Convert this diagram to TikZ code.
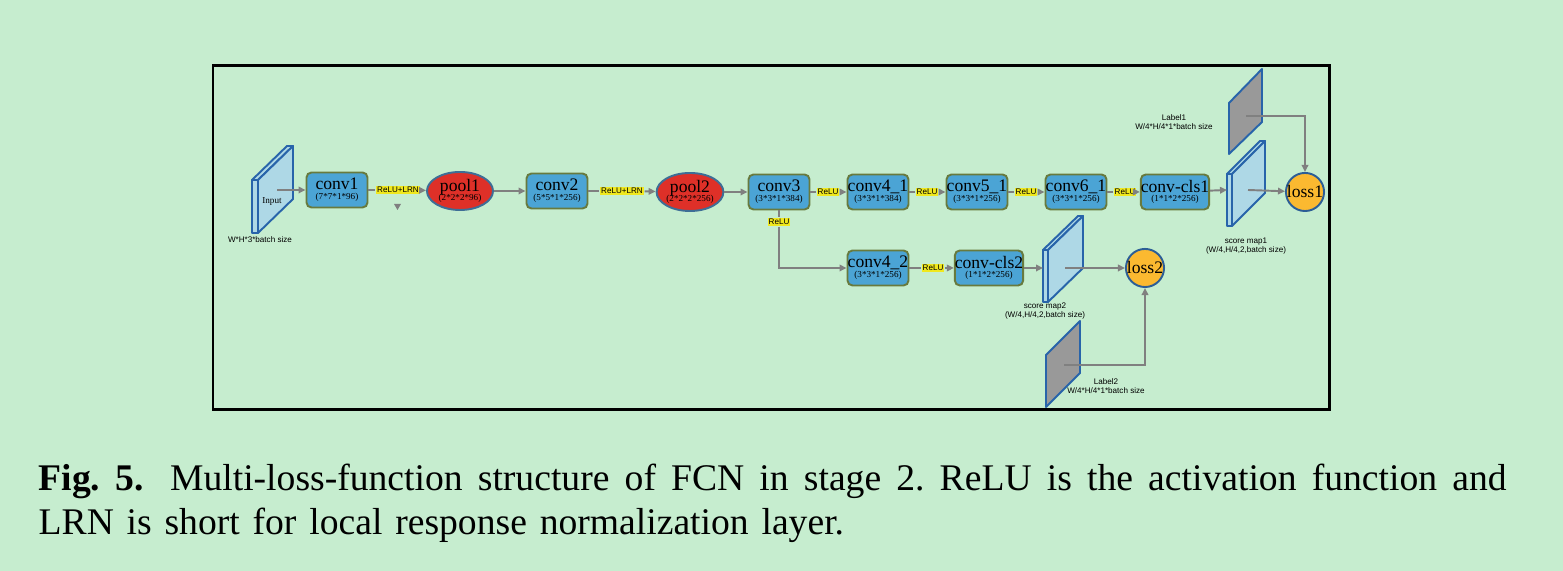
\documentclass[tikz,border=0pt]{standalone}
\usepackage{fontspec}
\setmainfont{Liberation Serif}
\setsansfont{Liberation Sans}
\usetikzlibrary{shapes.geometric,arrows.meta}

\definecolor{bggreen}{RGB}{198,237,207}
\definecolor{convfill}{RGB}{75,164,213}
\definecolor{convdraw}{RGB}{104,122,62}
\definecolor{poolfill}{RGB}{222,48,40}
\definecolor{pooldraw}{RGB}{62,110,150}
\definecolor{lossfill}{RGB}{251,185,48}
\definecolor{lossdraw}{RGB}{44,94,150}
\definecolor{slabfill}{RGB}{174,216,230}
\definecolor{slabdraw}{RGB}{40,100,170}
\definecolor{labelgrey}{RGB}{153,153,153}
\definecolor{relufill}{RGB}{240,232,30}
\definecolor{flowgrey}{RGB}{128,128,128}

\newcommand{\layername}{\fontsize{5}{5}\selectfont}
\lineskiplimit=-9pt
\frenchspacing

\begin{document}
\begin{tikzpicture}[x=0.01cm, y=-0.01cm,
    >={Triangle[length=0.07cm,width=0.065cm]},
    convbox/.style={rectangle, rounded corners=0.05cm, draw=convdraw, fill=convfill,
        line width=0.55pt, minimum width=0.61cm, minimum height=0.35cm, inner sep=0pt,
        align=center, font=\fontsize{2.6}{2.75}\selectfont},
    poolnode/.style={ellipse, draw=pooldraw, fill=poolfill, line width=0.55pt,
        minimum width=0.66cm, minimum height=0.38cm, inner sep=0pt,
        align=center, font=\fontsize{2.6}{2.75}\selectfont},
    lossnode/.style={circle, draw=lossdraw, fill=lossfill, line width=0.55pt,
        minimum size=0.38cm, inner sep=0pt, font=\fontsize{5}{5}\selectfont},
    actbox/.style={fill=relufill, inner sep=0.3pt, font=\sffamily\fontsize{2.3}{2.3}\selectfont},
    notetext/.style={align=center, inner sep=0pt, font=\sffamily\fontsize{2.3}{2.7}\selectfont},
    flow/.style={draw=flowgrey, line width=0.55pt},
    slab/.style={fill=slabfill, draw=slabdraw, line width=0.55pt, line join=round},
    labelslab/.style={fill=labelgrey, draw=slabdraw, line width=0.55pt, line join=round}]

    % background and frame
    \fill[bggreen] (0,0) rectangle (1563,571);
    \draw[black, line width=0.85pt] (213,66) rectangle (1329,410);

    % Input slab
    \filldraw[slab] (252,180) rectangle (258,233);
    \filldraw[slab] (252,180) -- ++(35,-34) -- ++(6,0) -- (258,180) -- cycle;
    \filldraw[slab] (258,180) -- ++(35,-34) -- ++(0,53) -- (258,233) -- cycle;
    \node[inner sep=0pt, font=\fontsize{2.6}{2.6}\selectfont] (input) at (272,201) {Input};
    \node[notetext] (inputsize) at (260,240) {W*H*3*batch size};
    \coordinate (inarr) at (277,190);

    % score map 1 slab
    \filldraw[slab] (1227,174) rectangle (1232,226);
    \filldraw[slab] (1227,174) -- ++(33,-33) -- ++(5,0) -- (1232,174) -- cycle;
    \filldraw[slab] (1232,174) -- ++(33,-33) -- ++(0,52) -- (1232,226) -- cycle;
    \coordinate (sm1in) at (1227,190);
    \coordinate (sm1out) at (1248,190);
    \node[notetext] (sm1text) at (1246,246) {score map1\\(W/4,H/4,2,batch size)};

    % score map 2 slab
    \filldraw[slab] (1043,250) rectangle (1048,302);
    \filldraw[slab] (1043,250) -- ++(35,-34) -- ++(5,0) -- (1048,250) -- cycle;
    \filldraw[slab] (1048,250) -- ++(35,-34) -- ++(0,52) -- (1048,302) -- cycle;
    \coordinate (sm2in) at (1043,268);
    \coordinate (sm2out) at (1065,268);
    \node[notetext] (sm2text) at (1045,311) {score map2\\(W/4,H/4,2,batch size)};

    % label slabs
    \filldraw[labelslab] (1229,103) -- (1262,69) -- (1262,122) -- (1229,154) -- cycle;
    \coordinate (lb1out) at (1246,116);
    \node[notetext] (lb1text) at (1174,122) {Label1\\W/4*H/4*1*batch size};
    \filldraw[labelslab] (1046,355) -- (1080,321) -- (1080,373) -- (1046,407) -- cycle;
    \coordinate (lb2out) at (1064,365);
    \node[notetext] (lb2text) at (1106,386) {Label2\\W/4*H/4*1*batch size};

    % main branch
    \node[convbox] (conv1) at (337,190) {{\layername conv1}\\(7*7*1*96)};
    \node[poolnode] (pool1) at (460,191) {{\layername pool1}\\(2*2*2*96)};
    \node[convbox] (conv2) at (557,191) {{\layername conv2}\\(5*5*1*256)};
    \node[poolnode] (pool2) at (690,192) {{\layername pool2}\\(2*2*2*256)};
    \node[convbox] (conv3) at (779,192) {{\layername conv3}\\(3*3*1*384)};
    \node[convbox] (conv41) at (878,192) {{\layername conv4\_1}\\(3*3*1*384)};
    \node[convbox] (conv51) at (977,192) {{\layername conv5\_1}\\(3*3*1*256)};
    \node[convbox] (conv61) at (1076,192) {{\layername conv6\_1}\\(3*3*1*256)};
    \node[convbox] (cls1) at (1175,192) {{\layername conv-cls1}\\(1*1*2*256)};
    \node[lossnode] (loss1) at (1305,192) {loss1};

    % second branch
    \node[convbox] (conv42) at (878,268) {{\layername conv4\_2}\\(3*3*1*256)};
    \node[convbox] (cls2) at (989,268) {{\layername conv-cls2}\\(1*1*2*256)};
    \node[lossnode] (loss2) at (1145,268) {loss2};

    % activation labels
    \node[actbox] (act1) at (398,190) {ReLU+LRN};
    \node[actbox] (act2) at (622,191) {ReLU+LRN};
    \node[actbox] (act3) at (828,192) {ReLU};
    \node[actbox] (act4) at (927,192) {ReLU};
    \node[actbox] (act5) at (1026,192) {ReLU};
    \node[actbox] (act6) at (1125,192) {ReLU};
    \node[actbox] (act7) at (779,222) {ReLU};
    \node[actbox] (act8) at (933,268) {ReLU};

    % small marker below first label
    \fill[flowgrey] (394,204) -- (401,204) -- (397.5,210) -- cycle;

    % connections
    \draw[flow, ->] (inarr) -- (conv1);
    \draw[flow] (conv1) -- (act1);
    \draw[flow, ->] (act1) -- (pool1);
    \draw[flow, ->] (pool1) -- (conv2);
    \draw[flow] (conv2) -- (act2);
    \draw[flow, ->] (act2) -- (pool2);
    \draw[flow, ->] (pool2) -- (conv3);
    \draw[flow] (conv3) -- (act3);
    \draw[flow, ->] (act3) -- (conv41);
    \draw[flow] (conv41) -- (act4);
    \draw[flow, ->] (act4) -- (conv51);
    \draw[flow] (conv51) -- (act5);
    \draw[flow, ->] (act5) -- (conv61);
    \draw[flow] (conv61) -- (act6);
    \draw[flow, ->] (act6) -- (cls1);
    \draw[flow, ->] (cls1) -- (sm1in);
    \draw[flow, ->] (sm1out) -- (loss1);
    \draw[flow, ->] (lb1out) -| (loss1);

    \draw[flow] (conv3) -- (act7);
    \draw[flow, ->] (act7) |- (conv42);
    \draw[flow] (conv42) -- (act8);
    \draw[flow, ->] (act8) -- (cls2);
    \draw[flow, ->] (cls2) -- (sm2in);
    \draw[flow, ->] (sm2out) -- (loss2);
    \draw[flow, ->] (lb2out) -| (loss2);

    % caption
    \node[anchor=north west, text width=14.67cm, align=justify, inner sep=0pt,
        font=\fontsize{10.7}{12.5}\selectfont] (caption) at (38,463)
        {\textbf{Fig.~5.}\hspace{0.7em}Multi-loss-function structure of FCN in stage 2. ReLU is the activation function and\linebreak
        {\spaceskip=0.34em plus 0.1em LRN is short for local response normalization layer.}};
\end{tikzpicture}
\end{document}
